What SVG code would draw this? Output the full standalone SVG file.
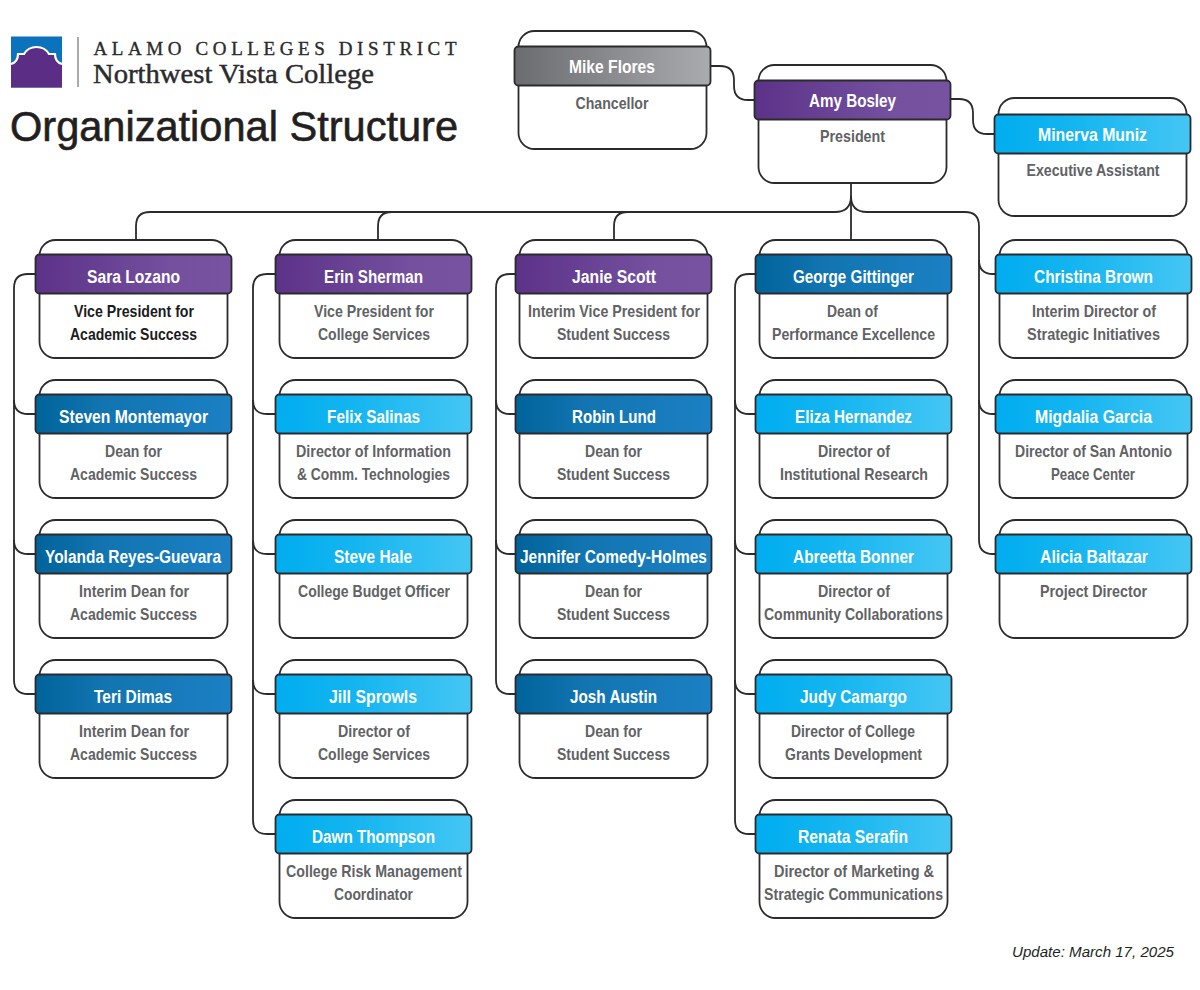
<svg xmlns="http://www.w3.org/2000/svg" width="1200" height="990" viewBox="0 0 1200 990">
<style>
.card{fill:#fff;stroke:#2b2b2d;stroke-width:1.8;transform:translateX(.5px)}
.hd{stroke:#2b2b2d;stroke-width:1.8;transform:translateX(.5px)}
.p{fill:url(#gp)}.b{fill:url(#gb)}.l{fill:url(#gl)}.g{fill:url(#gg)}
text{font-family:"Liberation Sans",Arial,sans-serif;font-weight:700;text-anchor:middle}
.n{fill:#fff;font-size:18px}
.r{fill:#616264;font-size:17px}
.k{fill:#1c1b1d}
.c{fill:none;stroke:#2b2b2d;stroke-width:1.8}
</style>
<defs>
<linearGradient id="gp"><stop offset="0" stop-color="#5c3288"/><stop offset=".7" stop-color="#74509f"/><stop offset="1" stop-color="#7652a1"/></linearGradient>
<linearGradient id="gb"><stop offset="0" stop-color="#00639a"/><stop offset=".35" stop-color="#1275b1"/><stop offset="1" stop-color="#1b80c4"/></linearGradient>
<linearGradient id="gl"><stop offset="0" stop-color="#00adef"/><stop offset=".4" stop-color="#14b5f0"/><stop offset="1" stop-color="#45c6f4"/></linearGradient>
<linearGradient id="gg"><stop offset="0" stop-color="#6b6c6f"/><stop offset="1" stop-color="#a9abae"/></linearGradient>
</defs>
<g id="logo">
<rect x="11" y="36.500" width="51" height="51" fill="#0a73bc"/>
<path d="M11 64Q18 62 18 54H24Q28 47 36.500 47Q45 47 49 54H55Q55 62 62 64V87.500H11Z" fill="#5c2d84"/>
<path d="M11 64Q18 62 18 54H24Q28 47 36.500 47Q45 47 49 54H55Q55 62 62 64" fill="none" stroke="#fff" stroke-width="2.200"/>
<line x1="78" y1="37" x2="78" y2="87" stroke="#58595b" stroke-width="1"/>
<text x="275" y="55" textLength="363" lengthAdjust="spacing" style="font-family:'Liberation Serif',serif;font-weight:400;font-size:19px;fill:#2b2a2c;stroke:#2b2a2c;stroke-width:.35">ALAMO COLLEGES DISTRICT</text>
<text x="233.500" y="83" textLength="281" lengthAdjust="spacingAndGlyphs" style="font-family:'Liberation Serif',serif;font-weight:400;font-size:27px;fill:#2b2a2c;stroke:#2b2a2c;stroke-width:.45">Northwest Vista College</text>
</g>
<text id="title" x="234" y="141" textLength="448" lengthAdjust="spacingAndGlyphs" style="font-weight:400;font-size:42px;fill:#231f20;stroke:#231f20;stroke-width:.6">Organizational Structure</text>
<text id="update" x="1093" y="957" textLength="162" lengthAdjust="spacingAndGlyphs" style="font-weight:400;font-style:italic;font-size:15px;fill:#231f20">Update: March 17, 2025</text>

<g id="connectors">
<path class="c" d="M710 66H720Q734 66 734 80V86Q734 100 748 100H756"/>
<path class="c" d="M950 99H959Q973 99 973 113V120Q973 134 987 134H996"/>
<path class="c" d="M851 183V240"/>
<path class="c" d="M851 196Q851 212 835 212H150Q136 212 136 226V240"/>
<path class="c" d="M392 212Q378 212 378 226V240"/>
<path class="c" d="M628 212Q614 212 614 226V240"/>
<path class="c" d="M851 196Q851 212 867 212H965Q979 212 979 226V540Q979 554 993 554H997"/>
<path class="c" d="M979 260Q979 274 993 274H997"/>
<path class="c" d="M979 400Q979 414 993 414H997"/>
<path class="c" d="M37 274H28Q14 274 14 288V680Q14 694 28 694H37"/>
<path class="c" d="M14 400Q14 414 28 414H37"/>
<path class="c" d="M14 540Q14 554 28 554H37"/>
<path class="c" d="M277 274H267Q253 274 253 288V820Q253 834 267 834H277"/>
<path class="c" d="M253 400Q253 414 267 414H277"/>
<path class="c" d="M253 540Q253 554 267 554H277"/>
<path class="c" d="M253 680Q253 694 267 694H277"/>
<path class="c" d="M517 274H510Q496 274 496 288V680Q496 694 510 694H517"/>
<path class="c" d="M496 400Q496 414 510 414H517"/>
<path class="c" d="M496 540Q496 554 510 554H517"/>
<path class="c" d="M757 274H749Q735 274 735 288V820Q735 834 749 834H757"/>
<path class="c" d="M735 400Q735 414 749 414H757"/>
<path class="c" d="M735 540Q735 554 749 554H757"/>
<path class="c" d="M735 680Q735 694 749 694H757"/>
</g>

<g id="mike-flores"><rect class="card" x="518" y="31" width="188" height="118" rx="16"/><rect class="hd g" x="514" y="46.500" width="196" height="39" rx="4"/><text class="n" x="612" y="73" textLength="86" lengthAdjust="spacingAndGlyphs">Mike Flores</text><text class="r" x="612" y="109" textLength="73" lengthAdjust="spacingAndGlyphs">Chancellor</text></g>
<g id="amy-bosley"><rect class="card" x="758" y="65" width="188" height="118" rx="16"/><rect class="hd p" x="754" y="80.500" width="196" height="39" rx="4"/><text class="n" x="852.500" y="107" textLength="87" lengthAdjust="spacingAndGlyphs">Amy Bosley</text><text class="r" x="852.500" y="142" textLength="65" lengthAdjust="spacingAndGlyphs">President</text></g>
<g id="minerva-muniz"><rect class="card" x="998" y="98" width="188" height="118" rx="16"/><rect class="hd l" x="994" y="114.500" width="196" height="39" rx="4"/><text class="n" x="1092.500" y="141" textLength="109" lengthAdjust="spacingAndGlyphs">Minerva Muniz</text><text class="r" x="1093" y="176" textLength="133" lengthAdjust="spacingAndGlyphs">Executive Assistant</text></g>

<g id="sara-lozano"><rect class="card" x="39" y="240" width="188" height="118" rx="16"/><rect class="hd p" x="35" y="254.500" width="196" height="39" rx="4"/><text class="n" x="133.500" y="283" textLength="93" lengthAdjust="spacingAndGlyphs">Sara Lozano</text><text class="r k" x="134" y="317" textLength="120" lengthAdjust="spacingAndGlyphs">Vice President for</text><text class="r k" x="133.500" y="340" textLength="127" lengthAdjust="spacingAndGlyphs">Academic Success</text></g>
<g id="steven-montemayor"><rect class="card" x="39" y="380" width="188" height="118" rx="16"/><rect class="hd b" x="35" y="394.500" width="196" height="39" rx="4"/><text class="n" x="133.500" y="423" textLength="149" lengthAdjust="spacingAndGlyphs">Steven Montemayor</text><text class="r" x="133.500" y="457" textLength="57" lengthAdjust="spacingAndGlyphs">Dean for</text><text class="r" x="133.500" y="480" textLength="127" lengthAdjust="spacingAndGlyphs">Academic Success</text></g>
<g id="yolanda-reyes-guevara"><rect class="card" x="39" y="520" width="188" height="118" rx="16"/><rect class="hd b" x="35" y="534.500" width="196" height="39" rx="4"/><text class="n" x="133" y="563" textLength="176" lengthAdjust="spacingAndGlyphs">Yolanda Reyes-Guevara</text><text class="r" x="134" y="597" textLength="110" lengthAdjust="spacingAndGlyphs">Interim Dean for</text><text class="r" x="133.500" y="620" textLength="127" lengthAdjust="spacingAndGlyphs">Academic Success</text></g>
<g id="teri-dimas"><rect class="card" x="39" y="660" width="188" height="118" rx="16"/><rect class="hd b" x="35" y="674.500" width="196" height="39" rx="4"/><text class="n" x="133" y="703" textLength="78" lengthAdjust="spacingAndGlyphs">Teri Dimas</text><text class="r" x="134" y="737" textLength="110" lengthAdjust="spacingAndGlyphs">Interim Dean for</text><text class="r" x="133.500" y="760" textLength="127" lengthAdjust="spacingAndGlyphs">Academic Success</text></g>

<g id="erin-sherman"><rect class="card" x="279" y="240" width="188" height="118" rx="16"/><rect class="hd p" x="275" y="254.500" width="196" height="39" rx="4"/><text class="n" x="373.500" y="283" textLength="99" lengthAdjust="spacingAndGlyphs">Erin Sherman</text><text class="r" x="374" y="317" textLength="120" lengthAdjust="spacingAndGlyphs">Vice President for</text><text class="r" x="374" y="340" textLength="112" lengthAdjust="spacingAndGlyphs">College Services</text></g>
<g id="felix-salinas"><rect class="card" x="279" y="380" width="188" height="118" rx="16"/><rect class="hd l" x="275" y="394.500" width="196" height="39" rx="4"/><text class="n" x="373.500" y="423" textLength="93" lengthAdjust="spacingAndGlyphs">Felix Salinas</text><text class="r" x="373.500" y="457" textLength="155" lengthAdjust="spacingAndGlyphs">Director of Information</text><text class="r" x="373.500" y="480" textLength="153" lengthAdjust="spacingAndGlyphs">&amp; Comm. Technologies</text></g>
<g id="steve-hale"><rect class="card" x="279" y="520" width="188" height="118" rx="16"/><rect class="hd l" x="275" y="534.500" width="196" height="39" rx="4"/><text class="n" x="373" y="563" textLength="78" lengthAdjust="spacingAndGlyphs">Steve Hale</text><text class="r" x="374" y="597" textLength="152" lengthAdjust="spacingAndGlyphs">College Budget Officer</text></g>
<g id="jill-sprowls"><rect class="card" x="279" y="660" width="188" height="118" rx="16"/><rect class="hd l" x="275" y="674.500" width="196" height="39" rx="4"/><text class="n" x="373" y="703" textLength="88" lengthAdjust="spacingAndGlyphs">Jill Sprowls</text><text class="r" x="374" y="737" textLength="72" lengthAdjust="spacingAndGlyphs">Director of</text><text class="r" x="374" y="760" textLength="112" lengthAdjust="spacingAndGlyphs">College Services</text></g>
<g id="dawn-thompson"><rect class="card" x="279" y="800" width="188" height="118" rx="16"/><rect class="hd l" x="275" y="814.500" width="196" height="39" rx="4"/><text class="n" x="373.500" y="843" textLength="123" lengthAdjust="spacingAndGlyphs">Dawn Thompson</text><text class="r" x="374" y="877" textLength="176" lengthAdjust="spacingAndGlyphs">College Risk Management</text><text class="r" x="373.500" y="900" textLength="79" lengthAdjust="spacingAndGlyphs">Coordinator</text></g>

<g id="janie-scott"><rect class="card" x="519" y="240" width="188" height="118" rx="16"/><rect class="hd p" x="515" y="254.500" width="196" height="39" rx="4"/><text class="n" x="614" y="283" textLength="84" lengthAdjust="spacingAndGlyphs">Janie Scott</text><text class="r" x="614" y="317" textLength="172" lengthAdjust="spacingAndGlyphs">Interim Vice President for</text><text class="r" x="613.500" y="340" textLength="113" lengthAdjust="spacingAndGlyphs">Student Success</text></g>
<g id="robin-lund"><rect class="card" x="519" y="380" width="188" height="118" rx="16"/><rect class="hd b" x="515" y="394.500" width="196" height="39" rx="4"/><text class="n" x="614" y="423" textLength="84" lengthAdjust="spacingAndGlyphs">Robin Lund</text><text class="r" x="613.500" y="457" textLength="57" lengthAdjust="spacingAndGlyphs">Dean for</text><text class="r" x="613.500" y="480" textLength="113" lengthAdjust="spacingAndGlyphs">Student Success</text></g>
<g id="jennifer-comedy-holmes"><rect class="card" x="519" y="520" width="188" height="118" rx="16"/><rect class="hd b" x="515" y="534.500" width="196" height="39" rx="4"/><text class="n" x="613.500" y="563" textLength="187" lengthAdjust="spacingAndGlyphs">Jennifer Comedy-Holmes</text><text class="r" x="613.500" y="597" textLength="57" lengthAdjust="spacingAndGlyphs">Dean for</text><text class="r" x="613.500" y="620" textLength="113" lengthAdjust="spacingAndGlyphs">Student Success</text></g>
<g id="josh-austin"><rect class="card" x="519" y="660" width="188" height="118" rx="16"/><rect class="hd b" x="515" y="674.500" width="196" height="39" rx="4"/><text class="n" x="613.500" y="703" textLength="87" lengthAdjust="spacingAndGlyphs">Josh Austin</text><text class="r" x="613.500" y="737" textLength="57" lengthAdjust="spacingAndGlyphs">Dean for</text><text class="r" x="613.500" y="760" textLength="113" lengthAdjust="spacingAndGlyphs">Student Success</text></g>

<g id="george-gittinger"><rect class="card" x="759" y="240" width="188" height="118" rx="16"/><rect class="hd b" x="755" y="254.500" width="196" height="39" rx="4"/><text class="n" x="853.500" y="283" textLength="121" lengthAdjust="spacingAndGlyphs">George Gittinger</text><text class="r" x="852.500" y="317" textLength="51" lengthAdjust="spacingAndGlyphs">Dean of</text><text class="r" x="853.500" y="340" textLength="163" lengthAdjust="spacingAndGlyphs">Performance Excellence</text></g>
<g id="eliza-hernandez"><rect class="card" x="759" y="380" width="188" height="118" rx="16"/><rect class="hd l" x="755" y="394.500" width="196" height="39" rx="4"/><text class="n" x="853.500" y="423" textLength="117" lengthAdjust="spacingAndGlyphs">Eliza Hernandez</text><text class="r" x="854" y="457" textLength="72" lengthAdjust="spacingAndGlyphs">Director of</text><text class="r" x="854" y="480" textLength="148" lengthAdjust="spacingAndGlyphs">Institutional Research</text></g>
<g id="abreetta-bonner"><rect class="card" x="759" y="520" width="188" height="118" rx="16"/><rect class="hd l" x="755" y="534.500" width="196" height="39" rx="4"/><text class="n" x="853.500" y="563" textLength="121" lengthAdjust="spacingAndGlyphs">Abreetta Bonner</text><text class="r" x="854" y="597" textLength="72" lengthAdjust="spacingAndGlyphs">Director of</text><text class="r" x="853.500" y="620" textLength="179" lengthAdjust="spacingAndGlyphs">Community Collaborations</text></g>
<g id="judy-camargo"><rect class="card" x="759" y="660" width="188" height="118" rx="16"/><rect class="hd l" x="755" y="674.500" width="196" height="39" rx="4"/><text class="n" x="853.500" y="703" textLength="107" lengthAdjust="spacingAndGlyphs">Judy Camargo</text><text class="r" x="853" y="737" textLength="124" lengthAdjust="spacingAndGlyphs">Director of College</text><text class="r" x="853.500" y="760" textLength="137" lengthAdjust="spacingAndGlyphs">Grants Development</text></g>
<g id="renata-serafin"><rect class="card" x="759" y="800" width="188" height="118" rx="16"/><rect class="hd l" x="755" y="814.500" width="196" height="39" rx="4"/><text class="n" x="853" y="843" textLength="110" lengthAdjust="spacingAndGlyphs">Renata Serafin</text><text class="r" x="854" y="877" textLength="160" lengthAdjust="spacingAndGlyphs">Director of Marketing &amp;</text><text class="r" x="853.500" y="900" textLength="179" lengthAdjust="spacingAndGlyphs">Strategic Communications</text></g>

<g id="christina-brown"><rect class="card" x="999" y="240" width="188" height="118" rx="16"/><rect class="hd l" x="995" y="254.500" width="196" height="39" rx="4"/><text class="n" x="1093.500" y="283" textLength="119" lengthAdjust="spacingAndGlyphs">Christina Brown</text><text class="r" x="1094" y="317" textLength="124" lengthAdjust="spacingAndGlyphs">Interim Director of</text><text class="r" x="1093.500" y="340" textLength="133" lengthAdjust="spacingAndGlyphs">Strategic Initiatives</text></g>
<g id="migdalia-garcia"><rect class="card" x="999" y="380" width="188" height="118" rx="16"/><rect class="hd l" x="995" y="394.500" width="196" height="39" rx="4"/><text class="n" x="1093.500" y="423" textLength="117" lengthAdjust="spacingAndGlyphs">Migdalia Garcia</text><text class="r" x="1093.500" y="457" textLength="157" lengthAdjust="spacingAndGlyphs">Director of San Antonio</text><text class="r" x="1093" y="480" textLength="84" lengthAdjust="spacingAndGlyphs">Peace Center</text></g>
<g id="alicia-baltazar"><rect class="card" x="999" y="520" width="188" height="118" rx="16"/><rect class="hd l" x="995" y="534.500" width="196" height="39" rx="4"/><text class="n" x="1094" y="563" textLength="108" lengthAdjust="spacingAndGlyphs">Alicia Baltazar</text><text class="r" x="1093.500" y="597" textLength="107" lengthAdjust="spacingAndGlyphs">Project Director</text></g>
</svg>
